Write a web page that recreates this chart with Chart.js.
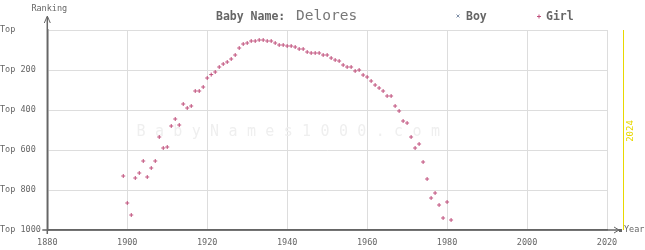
<!DOCTYPE html>
<html>
<head>
<meta charset="utf-8">
<script src="https://cdn.jsdelivr.net/npm/chart.js@4"></script>
<style>
  html, body { margin: 0; padding: 0; background: #fff; }
  #wrap { width: 645px; height: 250px; position: relative; }
</style>
</head>
<body>
<div id="wrap"><canvas id="nameChart"></canvas></div>
<script>
const babyName = "Delores";

const xTicks = [1880, 1900, 1920, 1940, 1960, 1980, 2000, 2020];
const yTicks = [0, 200, 400, 600, 800, 1000];

const boyYears = [];
const boyRanks = [];

const girlYears = [
  1899, 1900, 1901, 1902, 1903, 1904, 1905, 1906, 1907, 1908,
  1909, 1910, 1911, 1912, 1913, 1914, 1915, 1916, 1917, 1918,
  1919, 1920, 1921, 1922, 1923, 1924, 1925, 1926, 1927, 1928,
  1929, 1930, 1931, 1932, 1933, 1934, 1935, 1936, 1937, 1938,
  1939, 1940, 1941, 1942, 1943, 1944, 1945, 1946, 1947, 1948,
  1949, 1950, 1951, 1952, 1953, 1954, 1955, 1956, 1957, 1958,
  1959, 1960, 1961, 1962, 1963, 1964, 1965, 1966, 1967, 1968,
  1969, 1970, 1971, 1972, 1973, 1974, 1975, 1976, 1977, 1978,
  1979, 1980, 1981
];
const girlRanks = [
  730, 865, 925, 740, 715, 655, 735, 690, 655, 535,
  590, 585, 480, 445, 475, 370, 390, 380, 305, 305,
  285, 240, 223, 210, 185, 170, 160, 145, 125, 90,
  70, 65, 55, 55, 50, 50, 55, 55, 65, 75,
  75, 80, 80, 85, 95, 95, 110, 115, 115, 115,
  125, 125, 140, 150, 155, 175, 185, 185, 205, 200,
  225, 235, 255, 275, 290, 305, 330, 330, 380, 405,
  455, 465, 535, 590, 570, 660, 745, 840, 815, 875,
  940, 860, 950
];

const MONO = "'DejaVu Sans Mono', 'Liberation Mono', monospace";
const AXIS = "#666";
const GRID = "#dddddd";
const GIRL = "#c0507c";
const BOY = "#8090a8";

function toPoints(years, ranks) {
  return years.map((y, i) => ({ x: y, y: ranks[i] }));
}

const decorations = {
  id: "decorations",
  beforeDatasetsDraw(chart) {
    const ctx = chart.ctx;
    // watermark
    const mark = "BabyNames1000.com";
    ctx.save();
    ctx.fillStyle = "#efefef";
    ctx.font = "15px " + MONO;
    ctx.textAlign = "center";
    ctx.textBaseline = "middle";
    for (let i = 0; i < mark.length; i++) {
      ctx.fillText(mark[i], 141 + i * 18.4, 132);
    }
    ctx.restore();
  },
  afterDraw(chart) {
    const ctx = chart.ctx;
    const area = chart.chartArea;
    ctx.save();

    // axis extensions and arrows
    ctx.strokeStyle = AXIS;
    ctx.lineWidth = 1.5;
    ctx.beginPath();
    ctx.moveTo(area.left, 17);
    ctx.lineTo(area.left, area.bottom + 4);
    ctx.moveTo(area.left - 5, area.bottom);
    ctx.lineTo(620, area.bottom);
    ctx.stroke();

    ctx.lineWidth = 1;
    ctx.beginPath();
    ctx.moveTo(area.left - 3, 23);
    ctx.lineTo(area.left, 16);
    ctx.lineTo(area.left + 3, 23);
    ctx.moveTo(614, area.bottom - 3);
    ctx.lineTo(619, area.bottom);
    ctx.lineTo(614, area.bottom + 3);
    ctx.stroke();
    ctx.fillStyle = AXIS;
    ctx.fillRect(619, area.bottom - 1, 3, 3);

    ctx.fillStyle = "#666";
    ctx.font = "8.5px " + MONO;
    ctx.textBaseline = "middle";
    ctx.textAlign = "center";
    ctx.fillText("Ranking", area.left + 2, 9);
    ctx.textAlign = "left";
    ctx.fillText("Year", 624, area.bottom);

    // current year marker
    ctx.strokeStyle = "#e8d800";
    ctx.lineWidth = 1;
    ctx.beginPath();
    ctx.moveTo(623.5, area.top);
    ctx.lineTo(623.5, area.bottom);
    ctx.stroke();
    ctx.save();
    ctx.translate(631, 131);
    ctx.rotate(-Math.PI / 2);
    ctx.fillStyle = "#e8d800";
    ctx.font = "9px " + MONO;
    ctx.textAlign = "center";
    ctx.fillText("2024", 0, 0);
    ctx.restore();

    // title
    ctx.fillStyle = "#666";
    ctx.textAlign = "left";
    ctx.textBaseline = "middle";
    ctx.font = "bold 11.5px " + MONO;
    ctx.fillText("Baby Name:", 216, 17);
    ctx.font = "14.5px " + MONO;
    ctx.fillStyle = "#777";
    ctx.fillText(babyName, 296, 16);

    // legend
    ctx.font = "bold 11.5px " + MONO;
    ctx.fillStyle = "#666";
    ctx.fillText("Boy", 466, 17);
    ctx.fillText("Girl", 546, 17);
    ctx.lineWidth = 1;
    ctx.strokeStyle = BOY;
    ctx.beginPath();
    ctx.moveTo(456.5, 14.5);
    ctx.lineTo(459.5, 17.5);
    ctx.moveTo(459.5, 14.5);
    ctx.lineTo(456.5, 17.5);
    ctx.stroke();
    ctx.strokeStyle = GIRL;
    ctx.beginPath();
    ctx.moveTo(537, 16.5);
    ctx.lineTo(541, 16.5);
    ctx.moveTo(539, 14.5);
    ctx.lineTo(539, 18.5);
    ctx.stroke();

    ctx.restore();
  }
};

new Chart(document.getElementById("nameChart"), {
  type: "scatter",
  data: {
    datasets: [
      {
        label: "Boy",
        data: toPoints(boyYears, boyRanks),
        pointStyle: "crossRot",
        radius: 2,
        borderColor: BOY,
        borderWidth: 1
      },
      {
        label: "Girl",
        data: toPoints(girlYears, girlRanks),
        pointStyle: "cross",
        radius: 2,
        borderColor: GIRL,
        backgroundColor: GIRL,
        borderWidth: 1
      }
    ]
  },
  options: {
    responsive: true,
    maintainAspectRatio: false,
    animation: false,
    layout: {
      padding: { left: 0, right: 38, top: 30, bottom: 0 }
    },
    plugins: {
      legend: { display: false },
      tooltip: { enabled: false }
    },
    scales: {
      x: {
        type: "linear",
        min: 1880,
        max: 2020,
        afterBuildTicks: scale => {
          scale.ticks = xTicks.map(v => ({ value: v }));
        },
        afterFit: scale => {
          scale.height = 20;
        },
        grid: { color: GRID, lineWidth: 1, drawTicks: false },
        border: { color: AXIS, width: 1.5 },
        ticks: {
          color: "#666",
          font: { family: MONO, size: 8.5 },
          padding: 8,
          maxRotation: 0,
          callback: v => String(v)
        }
      },
      y: {
        type: "linear",
        reverse: true,
        min: 0,
        max: 1000,
        afterBuildTicks: scale => {
          scale.ticks = yTicks.map(v => ({ value: v }));
        },
        afterFit: scale => {
          scale.width = 47.3;
        },
        grid: { color: GRID, lineWidth: 1, drawTicks: false },
        border: { color: AXIS, width: 1.5 },
        ticks: {
          color: "#666",
          font: { family: MONO, size: 8.5 },
          crossAlign: "far",
          padding: 6,
          callback: v => (v === 0 ? "Top" : "Top " + v)
        }
      }
    }
  },
  plugins: [decorations]
});
</script>
</body>
</html>
